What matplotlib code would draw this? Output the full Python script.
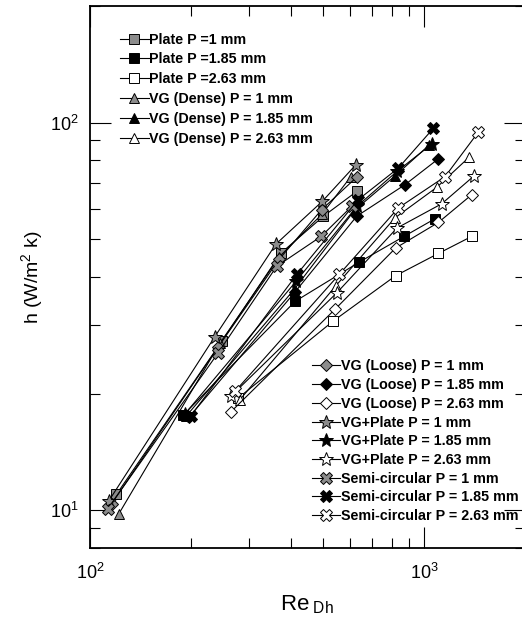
import matplotlib
matplotlib.use('Agg')
import matplotlib.pyplot as plt

plt.rcParams['font.family'] = ['Liberation Sans', 'DejaVu Sans']
plt.rcParams['mathtext.fontset'] = 'custom'
plt.rcParams['mathtext.rm'] = 'Liberation Sans'
plt.rcParams['mathtext.it'] = 'Liberation Sans:italic'
plt.rcParams['mathtext.bf'] = 'Liberation Sans:bold'

# --- data (Re_Dh, h) ---
re_plate_1 = [120, 248, 373, 500, 629]
h_plate_1 = [11.0, 27.3, 46.1, 57.4, 66.5]
re_plate_185 = [190, 411, 640, 871, 1077]
h_plate_185 = [17.6, 34.6, 43.7, 50.9, 56.5]
re_plate_263 = [278, 535, 822, 1104, 1389]
h_plate_263 = [19.5, 30.8, 40.3, 46.0, 50.9]

re_vgd_1 = [122, 245, 368, 494, 604]
h_vgd_1 = [9.8, 27.0, 45.0, 58.0, 72.6]
re_vgd_185 = [194, 408, 620, 820, 1035]
h_vgd_185 = [17.5, 37.1, 59.5, 73.0, 87.5]
re_vgd_263 = [281, 545, 818, 1091, 1367]
h_vgd_263 = [19.3, 38.0, 56.8, 68.1, 81.6]

re_vgl_1 = [116, 242, 368, 494, 629]
h_vgl_1 = [10.4, 26.4, 44.4, 59.7, 72.4]
re_vgl_185 = [198, 410, 629, 877, 1104]
h_vgl_185 = [17.4, 36.5, 57.4, 69.2, 80.7]
re_vgl_263 = [264, 541, 822, 1104, 1389]
h_vgl_263 = [17.95, 33.0, 47.5, 55.3, 65.2]

re_vgp_1 = [114, 236, 360, 496, 625]
h_vgp_1 = [10.6, 28.0, 48.6, 62.7, 77.9]
re_vgp_185 = [192, 414, 629, 830, 1055]
h_vgp_185 = [17.7, 39.0, 60.8, 74.9, 88.1]
re_vgp_263 = [264, 548, 830, 1130, 1411]
h_vgp_263 = [19.7, 36.4, 53.5, 61.8, 72.9]

re_semi_1 = [113, 242, 362, 492, 607]
h_semi_1 = [10.1, 25.5, 42.6, 50.9, 60.8]
re_semi_185 = [200, 416, 635, 838, 1067]
h_semi_185 = [17.5, 40.6, 63.3, 76.4, 96.8]
re_semi_263 = [272, 557, 838, 1156, 1454]
h_semi_263 = [20.3, 40.6, 60.3, 72.6, 94.6]

labels = [
    'Plate P =1 mm', 'Plate P =1.85 mm', 'Plate P =2.63 mm',
    'VG (Dense) P = 1 mm', 'VG (Dense) P = 1.85 mm', 'VG (Dense) P = 2.63 mm',
    'VG (Loose) P = 1 mm', 'VG (Loose) P = 1.85 mm', 'VG (Loose) P = 2.63 mm',
    'VG+Plate P = 1 mm', 'VG+Plate P = 1.85 mm', 'VG+Plate P = 2.63 mm',
    'Semi-circular P = 1 mm', 'Semi-circular P = 1.85 mm', 'Semi-circular P = 2.63 mm',
]

re_all = [re_plate_1, re_plate_185, re_plate_263, re_vgd_1, re_vgd_185, re_vgd_263,
          re_vgl_1, re_vgl_185, re_vgl_263, re_vgp_1, re_vgp_185, re_vgp_263,
          re_semi_1, re_semi_185, re_semi_263]
h_all = [h_plate_1, h_plate_185, h_plate_263, h_vgd_1, h_vgd_185, h_vgd_263,
         h_vgl_1, h_vgl_185, h_vgl_263, h_vgp_1, h_vgp_185, h_vgp_263,
         h_semi_1, h_semi_185, h_semi_263]

gray = '#8c8c8c'
faces = [gray, 'black', 'white']
markers = ['s', '^', 'D', '*', 'X']
msizes = [7.5, 7, 6, 10, 9]

fig = plt.figure(figsize=(5.22, 6.23), dpi=100)
ax = fig.add_axes([0.1724, 0.1204, 0.8326, 0.870])

handles = []
for i in range(15):
    m = i // 3
    ln, = ax.plot(re_all[i], h_all[i], color='black', lw=0.8,
                  marker=markers[m], ms=msizes[m], mfc=faces[i % 3],
                  mec='black', mew=0.7, label=labels[i])
    handles.append(ln)

ax.set_xscale('log')
ax.set_yscale('log')
ax.set_xlim(100, 2000)
ax.set_ylim(8, 200)

for s in ax.spines.values():
    s.set_linewidth(1.3)
ax.tick_params(which='both', direction='in', top=True, right=True, width=0.8)
ax.tick_params(which='major', length=15, labelsize=13, pad=11)
ax.tick_params(which='minor', length=7.5)
ax.tick_params(axis='y', which='major', pad=8)

ax.set_xlabel(r'$\mathregular{Re_{\ Dh}}$', fontsize=16, labelpad=7)
ax.set_ylabel(r'h (W/m$\mathregular{^2}$ k)', fontsize=14, labelpad=4)

lprop = {'weight': 'bold', 'size': 10.3}
leg1 = ax.legend(handles[:6], labels[:6], loc='upper left',
                 bbox_to_anchor=(0.069, 0.951), frameon=False, borderpad=0,
                 borderaxespad=0, handlelength=2.0, handletextpad=0.05,
                 labelspacing=0.41, prop=lprop)
ax.add_artist(leg1)
ax.legend(handles[6:], labels[6:], loc='upper left',
          bbox_to_anchor=(0.510, 0.348), frameon=False, borderpad=0,
          borderaxespad=0, handlelength=2.0, handletextpad=0.05,
          labelspacing=0.33, prop=lprop)

fig.savefig('out.png', dpi=100)
